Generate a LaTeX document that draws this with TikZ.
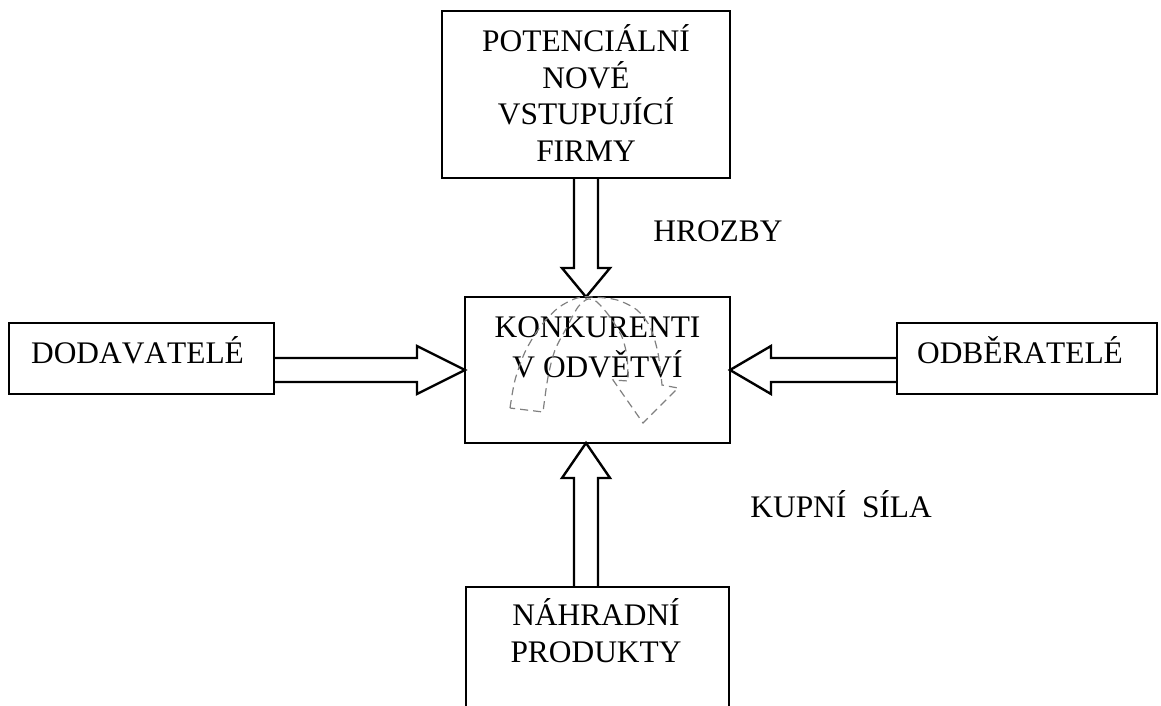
\documentclass[tikz,border=0pt]{standalone}
\usepackage{fontspec}
\setmainfont{Liberation Serif}[Kerning=Off]
\usetikzlibrary{calc,positioning}

% block arrow from #1 to the tip #2, head length #3
\newcommand{\forcearrow}[3]{%
  \coordinate (hb) at ($(#2)!#3!(#1)$);
  \draw[blockarrow] ($(#1)!6pt!90:(#2)$) -- ($(hb)!6pt!-90:(#1)$)
    -- ($(hb)!12pt!-90:(#1)$) -- (#2) -- ($(hb)!12pt!90:(#1)$)
    -- ($(hb)!6pt!90:(#1)$) -- ($(#1)!6pt!-90:(#2)$);
}

\begin{document}
\begin{tikzpicture}[x=0.5pt, y=-0.5pt,
  every node/.style={font=\fontsize{15.7}{18.35}\selectfont, inner sep=0pt},
  box/.style={draw, line width=1.2pt, outer sep=0pt},
  blockarrow/.style={draw, line width=1.2pt, line join=miter},
  sketch/.style={draw=gray, line width=0.6pt, dash pattern=on 4pt off 2.5pt}]
  \useasboundingbox (0,0) rectangle (1161,706);
  \clip (0,0) rectangle (1161,706);
  % boxes
  \node[box, minimum width=144pt, minimum height=83.5pt] (firmy) at (586,94.5) {};
  \node[box, minimum width=132.5pt, minimum height=73pt] (konk) at (597.5,370) {};
  \node[box, minimum width=132.5pt, minimum height=35.5pt] (dod) at (141.5,358.5) {};
  \node[box, minimum width=130pt, minimum height=35.5pt] (odb) at (1027,358.5) {};
  \node[box, minimum width=131.5pt, minimum height=100pt] (nahr) at (597.5,687) {};
  % texts
  \node[align=center] (firmy text) at (586,93) {POTENCIÁLNÍ\\NOVÉ\\VSTUPUJÍCÍ\\FIRMY};
  \node[align=center] (konk text) at (597.5,347) {KONKURENTI\\[1.6pt]V ODVĚTVÍ};
  \node[align=center] (nahr text) at (596,631) {NÁHRADNÍ\\PRODUKTY};
  \node[anchor=base] (dod text) at (137.5,363) {DODAVATELÉ};
  \node[anchor=base] (odb text) at (1020,363) {ODBĚRATELÉ};
  \node[anchor=base west] (hrozby) at (653,241) {HROZBY};
  \node[anchor=base west] (kupni) at (750,517) {KUPNÍ\ \ SÍLA};
  % arrows
  \coordinate (top tip) at (firmy.south |- konk.north);
  \coordinate (bottom tip) at (firmy.south |- konk.south);
  \coordinate (bottom start) at (firmy.south |- nahr.north);
  \coordinate (left start) at (dod.east |- konk.west);
  \coordinate (right start) at (odb.west |- konk.east);
  \forcearrow{firmy.south}{top tip}{14.5pt}
  \forcearrow{bottom start}{bottom tip}{17.5pt}
  \forcearrow{left start}{konk.west}{24pt}
  \forcearrow{right start}{konk.east}{20.5pt}
  % dashed sketch over the centre box
  \draw[sketch] plot[smooth] coordinates {(510,408) (515,380) (525,352) (540,327)
      (558,308) (577,298) (593,297) (617,300) (637,310) (650,327) (658,353) (662,385)}
    -- (678,388) -- (643,423) -- (613,380)
    -- plot[smooth] coordinates {(628,381) (627,357) (622,337) (610,317) (597,302)
      (588,299) (578,307) (567,327) (555,350) (548,377) (543,412)}
    -- cycle;
\end{tikzpicture}
\end{document}
